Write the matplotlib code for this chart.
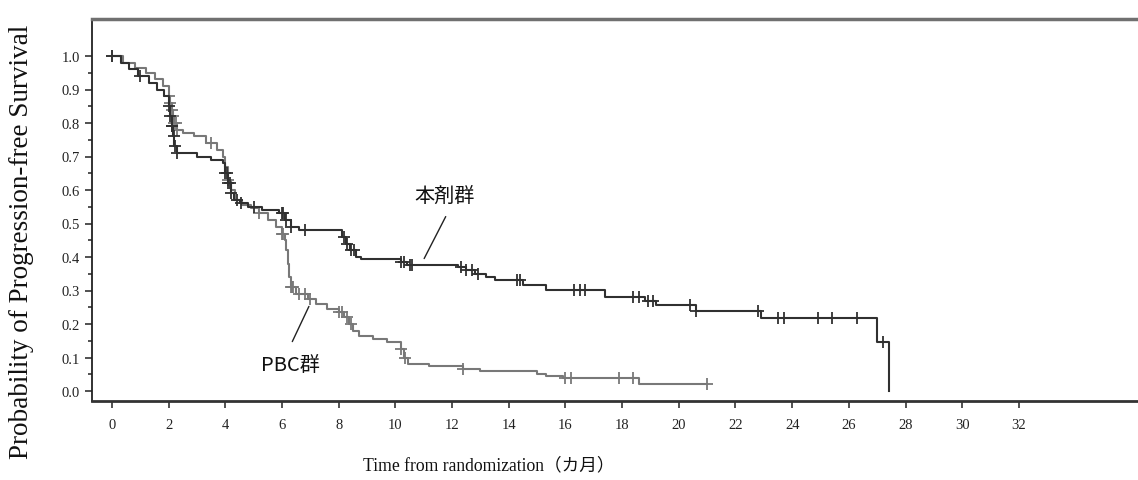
import numpy as np
import matplotlib
matplotlib.use("Agg")
import matplotlib.pyplot as plt

# ---- data ----
drug_t = [0, 0.3, 0.6, 0.9, 1.3, 1.6, 1.85, 2.0, 2.05, 2.1, 2.15, 2.2, 2.3, 3.0, 3.5, 3.9,
          4.0, 4.1, 4.2, 4.3, 4.5, 4.8, 5.3, 5.9, 6.1, 6.3, 6.6, 8.1, 8.25, 8.4, 8.6, 8.8,
          10.2, 10.4, 12.2, 12.5, 12.8, 13.2, 13.5, 14.5, 15.3, 17.4, 18.8, 19.2, 20.6,
          22.9, 27.0, 27.4]
drug_s = [1.0, 0.98, 0.96, 0.94, 0.92, 0.90, 0.88, 0.85, 0.82, 0.79, 0.76, 0.73, 0.71, 0.70,
          0.69, 0.68, 0.65, 0.62, 0.59, 0.57, 0.56, 0.55, 0.54, 0.53, 0.51, 0.49, 0.48, 0.46,
          0.44, 0.42, 0.40, 0.395, 0.385, 0.376, 0.37, 0.36, 0.35, 0.34, 0.33, 0.315, 0.302,
          0.28, 0.268, 0.257, 0.24, 0.218, 0.146, 0.0]
drug_cens = [0, 1.0, 2.0, 2.05, 2.1, 2.12, 2.18, 2.22, 2.3, 4.0, 4.05, 4.1, 4.15, 4.2, 4.4,
             4.55, 5.0, 6.0, 6.05, 6.15, 6.3, 6.8, 8.2, 8.3, 8.45, 8.55, 10.2, 10.3, 10.5,
             10.6, 12.3, 12.5, 12.7, 12.9, 14.3, 14.4, 16.3, 16.5, 16.7, 18.4, 18.6, 18.9,
             19.1, 20.4, 20.6, 22.8, 23.5, 23.7, 24.9, 25.4, 26.3, 27.2]

pbc_t = [0, 0.4, 0.8, 1.2, 1.5, 1.8, 2.0, 2.05, 2.1, 2.15, 2.2, 2.3, 2.5, 2.9, 3.3, 3.7,
         3.9, 4.0, 4.1, 4.2, 4.35, 4.6, 4.9, 5.2, 5.5, 5.8, 6.0, 6.1, 6.15, 6.2, 6.25, 6.3,
         6.5, 6.9, 7.2, 7.6, 8.0, 8.2, 8.35, 8.5, 8.7, 9.2, 9.7, 10.2, 10.3, 10.45, 11.2,
         12.4, 13.0, 15.0, 15.3, 15.9, 18.6, 21.0]
pbc_s = [1.0, 0.98, 0.965, 0.95, 0.93, 0.91, 0.88, 0.86, 0.84, 0.82, 0.80, 0.78, 0.77, 0.76,
         0.74, 0.72, 0.70, 0.67, 0.63, 0.60, 0.57, 0.555, 0.545, 0.53, 0.51, 0.49, 0.47,
         0.45, 0.42, 0.38, 0.34, 0.31, 0.29, 0.275, 0.26, 0.245, 0.235, 0.22, 0.20, 0.18,
         0.163, 0.155, 0.145, 0.125, 0.10, 0.08, 0.076, 0.065, 0.06, 0.052, 0.046, 0.039,
         0.021, 0.021]
pbc_cens = [0, 2.0, 2.05, 2.1, 2.15, 2.2, 2.25, 2.3, 3.5, 4.1, 5.2, 6.0, 6.05, 6.3, 6.35,
            6.4, 6.6, 6.8, 7.0, 8.0, 8.1, 8.3, 8.45, 10.2, 10.35, 12.4, 16.0, 16.2, 17.9,
            18.4, 21.0]

xticks = list(range(0, 34, 2))
yticks = [round(0.1 * i, 1) for i in range(11)]

drug_name = "本剤群"
pbc_name = "PBC群"

# ---- figure ----
W, H = 1138, 481
fig = plt.figure(figsize=(W / 100, H / 100), dpi=100)
ax = fig.add_axes([92 / W, 1 - 402 / H, 1 - 92 / W, (402 - 20) / H])

x0 = (92 - 112) / 28.34
x1 = (1138 - 112) / 28.34
ax.set_xlim(x0, x1)
ax.set_ylim(-(402 - 392) / 335, (392 - 20) / 335)


def step_val(times, surv, tc):
    idx = np.searchsorted(times, tc, side="right") - 1
    return np.asarray(surv)[idx]


dark = "#303030"
gray = "#787878"

ax.step(pbc_t, pbc_s, where="post", color=gray, lw=1.5, zorder=2)
ax.plot(pbc_cens, step_val(pbc_t, pbc_s, pbc_cens), ls="none", marker="+",
        ms=8, mew=1.3, color=gray, zorder=2)
ax.step(drug_t, drug_s, where="post", color=dark, lw=1.5, zorder=3)
ax.plot(drug_cens, step_val(drug_t, drug_s, drug_cens), ls="none", marker="+",
        ms=8, mew=1.3, color=dark, zorder=3)

# annotations
jp = ["Noto Sans CJK JP", "DejaVu Sans"]
ax.annotate("", xy=(10.97, 0.388), xytext=(11.82, 0.528),
            arrowprops=dict(arrowstyle="-", color="#222222", lw=1.0))
ax.text(11.75, 0.585, drug_name, ha="center", va="center", fontsize=14.5,
        family=jp, color="#111111")
ax.annotate("", xy=(6.99, 0.26), xytext=(6.32, 0.14),
            arrowprops=dict(arrowstyle="-", color="#222222", lw=1.0))
ax.text(6.3, 0.08, pbc_name, ha="center", va="center", fontsize=14.5,
        family=jp, color="#111111")

# axes styling
ax.set_xticks(xticks)
ax.set_xticklabels([str(v) for v in xticks])
ax.set_yticks(yticks)
ax.set_yticklabels([f"{v:.1f}" for v in yticks])
ax.set_yticks(np.arange(0.05, 1.0, 0.1), minor=True)
ax.tick_params(axis="both", which="major", direction="out", length=5, width=1.2,
               color="#333333", labelsize=10.5, labelcolor="#222222")
ax.tick_params(axis="y", which="minor", direction="out", length=3, width=1.2, color="#333333")
ax.tick_params(axis="x", pad=7)
for lab in ax.get_xticklabels() + ax.get_yticklabels():
    lab.set_family("Liberation Serif")

ax.spines["right"].set_visible(False)
ax.spines["top"].set_color("#707070")
ax.spines["top"].set_linewidth(2.5)
ax.spines["left"].set_color("#222222")
ax.spines["left"].set_linewidth(1.3)
ax.spines["bottom"].set_color("#333333")
ax.spines["bottom"].set_linewidth(2.0)

fig.text(489 / W, 1 - 466 / H, "Time from randomization（カ月）", ha="center", va="center",
         fontsize=12.7, family=["Liberation Serif", "Noto Sans CJK JP"], color="#111111")
fig.text(22 / W, 1 - 242 / H, "Probability of Progression-free Survival", ha="center",
         va="center", rotation=90, fontsize=19.5, family=["Liberation Serif"], color="#111111")

fig.savefig("out.png", dpi=100)
